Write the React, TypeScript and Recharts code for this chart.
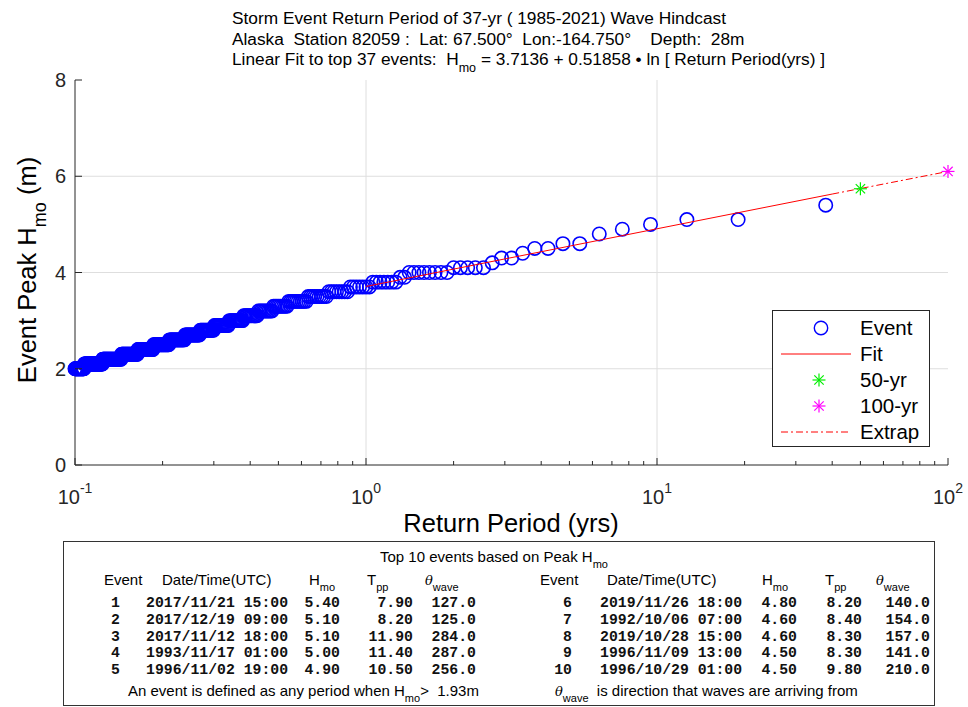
import React from "react";
import { Legend, ReferenceLine, Scatter, ScatterChart, XAxis, YAxis } from "recharts";

// plotting position: T = record length / rank
const RECORD_YEARS = 38;
const HMO_LEVELS = [
  5.4, 5.3, 5.2, 5.1, 5.0, 4.9, 4.8, 4.7, 4.6, 4.5, 4.4, 4.3, 4.2, 4.1, 4.0, 3.9, 3.8, 3.7,
  3.6, 3.5, 3.4, 3.3, 3.2, 3.1, 3.0, 2.9, 2.8, 2.7, 2.6, 2.5, 2.4, 2.3, 2.2, 2.1, 2.0,
];
const EVENTS_PER_LEVEL = [
  1, 0, 0, 2, 1, 1, 1, 0, 2, 2, 1, 2, 1, 5, 8, 2, 7, 7,
  8, 9, 10, 9, 10, 11, 12, 14, 15, 18, 21, 24, 27, 32, 42, 48, 27,
];

const FIT_T = [1.0, 40];
const FIT_H = [3.71, 5.63];
const EXTRAP_T = [40, 100];
const EXTRAP_H = [5.63, 6.1];
const RP50 = { t: 50, h: 5.74 };
const RP100 = { t: 100, h: 6.1 };

const X_MAJOR = [0.1, 1, 10, 100];
const X_MINOR = [
  0.2, 0.3, 0.4, 0.5, 0.6, 0.7, 0.8, 0.9, 2, 3, 4, 5, 6, 7, 8, 9, 20, 30, 40, 50, 60, 70, 80, 90,
];
const Y_TICKS = [0, 2, 4, 6, 8];

const TOP_RANK = [1, 2, 3, 4, 5, 6, 7, 8, 9, 10];
const TOP_DATE = [
  "2017/11/21 15:00", "2017/12/19 09:00", "2017/11/12 18:00", "1993/11/17 01:00", "1996/11/02 19:00",
  "2019/11/26 18:00", "1992/10/06 07:00", "2019/10/28 15:00", "1996/11/09 13:00", "1996/10/29 01:00",
];
const TOP_HMO = ["5.40", "5.10", "5.10", "5.00", "4.90", "4.80", "4.60", "4.60", "4.50", "4.50"];
const TOP_TPP = ["7.90", "8.20", "11.90", "11.40", "10.50", "8.20", "8.40", "8.30", "8.30", "9.80"];
const TOP_DIR = ["127.0", "125.0", "284.0", "287.0", "256.0", "140.0", "154.0", "157.0", "141.0", "210.0"];

const events: { t: number; h: number }[] = [];
let rank = 0;
HMO_LEVELS.forEach((h, i) => {
  for (let k = 0; k < EVENTS_PER_LEVEL[i]; k++) {
    rank += 1;
    events.push({ t: RECORD_YEARS / rank, h });
  }
});
const fitData = FIT_T.map((t, i) => ({ t, h: FIT_H[i] }));
const extrapData = EXTRAP_T.map((t, i) => ({ t, h: EXTRAP_H[i] }));
const X_ALL = [...X_MAJOR, ...X_MINOR].sort((a, b) => a - b);

const AX = "#262626";
const SANS = '"Liberation Sans", Arial, sans-serif';
const MONO = '"Liberation Mono", "Courier New", monospace';
const DASHDOT = "7 3 2 3";

const isMajor = (v: number) => X_MAJOR.some((m) => Math.abs(m - v) < 1e-9);

const BottomTick = (p: any) => {
  const major = isMajor(p.payload.value);
  const exp = Math.round(Math.log10(p.payload.value));
  return (
    <g>
      <line x1={p.x} x2={p.x} y1={p.y} y2={p.y - (major ? 7 : 4)} stroke={AX} />
      {major && (
        <text x={p.x} y={p.y + 39} textAnchor="middle" fontSize={20} fill={AX}>
          10<tspan dy={-11} fontSize={14}>{exp}</tspan>
        </text>
      )}
    </g>
  );
};
const TopTick = (p: any) => {
  const major = isMajor(p.payload.value);
  return <line x1={p.x} x2={p.x} y1={p.y} y2={p.y + (major ? 7 : 4)} stroke={AX} />;
};
const LeftTick = (p: any) => (
  <g>
    <line x1={p.x} x2={p.x + 7} y1={p.y} y2={p.y} stroke={AX} />
    <text x={p.x - 9} y={p.y} dy="0.36em" textAnchor="end" fontSize={20} fill={AX}>
      {p.payload.value}
    </text>
  </g>
);
const RightTick = (p: any) => <line x1={p.x} x2={p.x - 7} y1={p.y} y2={p.y} stroke={AX} />;

const Ring = (p: any) => (
  <circle cx={p.cx} cy={p.cy} r={6.7} fill="none" stroke="#0000ff" strokeWidth={1.6} />
);
const star = (color: string) => (p: any) => {
  const r = 6.5;
  const d = r * 0.72;
  return (
    <g stroke={color} strokeWidth={1.2}>
      <line x1={p.cx - r} x2={p.cx + r} y1={p.cy} y2={p.cy} />
      <line x1={p.cx} x2={p.cx} y1={p.cy - r} y2={p.cy + r} />
      <line x1={p.cx - d} x2={p.cx + d} y1={p.cy - d} y2={p.cy + d} />
      <line x1={p.cx - d} x2={p.cx + d} y1={p.cy + d} y2={p.cy - d} />
    </g>
  );
};
const Nothing = () => <g />;

const LegendBox = () => {
  const rows = ["Event", "Fit", "50-yr", "100-yr", "Extrap"];
  return (
    <div
      style={{
        width: 158,
        height: 137,
        boxSizing: "border-box",
        border: `1px solid ${AX}`,
        background: "#fff",
        position: "relative",
        fontFamily: SANS,
      }}
    >
      <svg width={88} height={137} style={{ position: "absolute", left: 0, top: 0 }}>
        <circle cx={48} cy={17} r={6.7} fill="none" stroke="#0000ff" strokeWidth={1.4} />
        <line x1={8} x2={78} y1={43} y2={43} stroke="#ff0000" />
        {star("#00ee00")({ cx: 46, cy: 69 })}
        {star("#ff00ff")({ cx: 46, cy: 95 })}
        <line x1={8} x2={78} y1={121} y2={121} stroke="#ff0000" strokeDasharray={DASHDOT} />
      </svg>
      {rows.map((r, i) => (
        <div
          key={r}
          style={{ position: "absolute", left: 87, top: 17 + i * 26, transform: "translateY(-50%)", fontSize: 20.5, color: "#000", lineHeight: 1 }}
        >
          {r}
        </div>
      ))}
    </div>
  );
};

const Sub = ({ children, size = 11 }: { children: React.ReactNode; size?: number }) => (
  <span style={{ fontSize: size, position: "relative", top: size * 0.55 }}>{children}</span>
);
const Theta = () => <span style={{ fontStyle: "italic", fontFamily: '"DejaVu Serif", serif', fontSize: 13 }}>θ</span>;

const abs = (left: number, top: number, extra: React.CSSProperties = {}): React.CSSProperties => ({
  position: "absolute",
  left,
  top,
  transform: "translateY(-50%)",
  whiteSpace: "pre",
  lineHeight: 1,
  ...extra,
});
const right = (edge: number, top: number, extra: React.CSSProperties = {}): React.CSSProperties =>
  abs(edge - 100, top, { width: 100, textAlign: "right", ...extra });

function EventTable() {
  const cols = [
    { rank: 120, date: 146, hmo: 340, tpp: 413, dir: 476, hEvent: 104, hDate: 162, hH: 309, hT: 367, hTh: 425 },
    { rank: 572, date: 600, hmo: 797, tpp: 862, dir: 930, hEvent: 540, hDate: 607, hH: 762, hT: 825, hTh: 876 },
  ];
  const rowY = (i: number) => 603 + i * 16.8;
  const mono: React.CSSProperties = { fontFamily: MONO, fontSize: 14.8, fontWeight: 700, color: "#111" };
  return (
    <div style={{ position: "absolute", left: 0, top: 0, width: 968, height: 707, fontFamily: SANS, fontSize: 15, color: "#000", pointerEvents: "none" }}>
      <div style={{ position: "absolute", left: 63, top: 541, width: 872, height: 165, boxSizing: "border-box", border: "1.5px solid #333", background: "#fff" }} />
      <div style={abs(380, 556)}>
        Top 10 events based on Peak H<Sub>mo</Sub>
      </div>
      {cols.map((c, g) => (
        <React.Fragment key={g}>
          <div style={abs(c.hEvent, 579)}>Event</div>
          <div style={abs(c.hDate, 579)}>Date/Time(UTC)</div>
          <div style={abs(c.hH, 579)}>
            H<Sub>mo</Sub>
          </div>
          <div style={abs(c.hT, 579)}>
            T<Sub>pp</Sub>
          </div>
          <div style={abs(c.hTh, 579)}>
            <Theta />
            <Sub>wave</Sub>
          </div>
          {TOP_RANK.slice(g * 5, g * 5 + 5).map((r, k) => {
            const i = g * 5 + k;
            return (
              <React.Fragment key={r}>
                <div style={right(c.rank, rowY(k), mono)}>{r}</div>
                <div style={abs(c.date, rowY(k), mono)}>{TOP_DATE[i]}</div>
                <div style={right(c.hmo, rowY(k), mono)}>{TOP_HMO[i]}</div>
                <div style={right(c.tpp, rowY(k), mono)}>{TOP_TPP[i]}</div>
                <div style={right(c.dir, rowY(k), mono)}>{TOP_DIR[i]}</div>
              </React.Fragment>
            );
          })}
        </React.Fragment>
      ))}
      <div style={abs(128, 690)}>
        An event is defined as any period when H<Sub>mo</Sub>{">  1.93m"}
      </div>
      <div style={abs(555, 690)}>
        <Theta />
        <Sub>wave</Sub>
        {"  is direction that waves are arriving from"}
      </div>
    </div>
  );
}

export default function App() {
  return (
    <div style={{ position: "absolute", left: 0, top: 0, width: 968, height: 707, background: "#fff", fontFamily: SANS, overflow: "hidden" }}>
      <div style={{ position: "absolute", left: 232, top: 8, fontSize: 17.3, lineHeight: "20.5px", color: "#000", whiteSpace: "pre" }}>
        <div>Storm Event Return Period of 37-yr ( 1985-2021) Wave Hindcast</div>
        <div>{"Alaska  Station 82059 :  Lat: 67.500°  Lon:-164.750°    Depth:  28m"}</div>
        <div>
          {"Linear Fit to top 37 events:  H"}
          <Sub size={12.5}>mo</Sub>
          {" = 3.7136 + 0.51858 • ln [ Return Period(yrs) ]"}
        </div>
      </div>

      <ScatterChart width={968} height={540} margin={{ top: 80, right: 20, bottom: 35, left: 35 }} style={{ position: "absolute", left: 0, top: 0 }}>
        <XAxis xAxisId="b" dataKey="t" type="number" scale="log" domain={[0.1, 100]} ticks={X_ALL} interval={0}
          tick={(p: any) => <BottomTick {...p} />} tickLine={false} tickSize={0} tickMargin={0} axisLine={{ stroke: AX }} height={40} />
        <XAxis xAxisId="t" orientation="top" dataKey="t" type="number" scale="log" domain={[0.1, 100]} ticks={X_ALL} interval={0}
          tick={(p: any) => <TopTick {...p} />} tickLine={false} tickSize={0} tickMargin={0} axisLine={{ stroke: AX }} height={0} />
        <YAxis yAxisId="l" dataKey="h" type="number" domain={[0, 8]} ticks={Y_TICKS} interval={0}
          tick={(p: any) => <LeftTick {...p} />} tickLine={false} tickSize={0} tickMargin={0} axisLine={{ stroke: AX }} width={40} />
        <YAxis yAxisId="r" orientation="right" dataKey="h" type="number" domain={[0, 8]} ticks={Y_TICKS} interval={0}
          tick={(p: any) => <RightTick {...p} />} tickLine={false} tickSize={0} tickMargin={0} axisLine={{ stroke: AX }} width={0} />

        {[1, 10].map((v) => (
          <ReferenceLine key={"gx" + v} xAxisId="b" yAxisId="l" x={v} stroke="#dedede" />
        ))}
        {[2, 4, 6].map((v) => (
          <ReferenceLine key={"gy" + v} xAxisId="b" yAxisId="l" y={v} stroke="#dedede" />
        ))}

        <Scatter name="Event" xAxisId="b" yAxisId="l" data={events} shape={Ring} isAnimationActive={false} />
        <Scatter name="Fit" xAxisId="b" yAxisId="l" data={fitData} shape={Nothing}
          line={{ stroke: "#ff0000", strokeWidth: 1 }} isAnimationActive={false} />
        <Scatter name="Extrap" xAxisId="b" yAxisId="l" data={extrapData} shape={Nothing}
          line={{ stroke: "#ff0000", strokeWidth: 1, strokeDasharray: DASHDOT }} isAnimationActive={false} />
        <Scatter name="50-yr" xAxisId="b" yAxisId="l" data={[RP50]} shape={star("#00ee00")} isAnimationActive={false} />
        <Scatter name="100-yr" xAxisId="b" yAxisId="l" data={[RP100]} shape={star("#ff00ff")} isAnimationActive={false} />

        <Legend layout="vertical" verticalAlign="middle" align="center" content={() => <LegendBox />}
          wrapperStyle={{ position: "absolute", left: 772, top: 310, width: 158, height: 137 }} />
      </ScatterChart>

      <div style={{ position: "absolute", left: 511, top: 523, transform: "translate(-50%, -50%)", fontSize: 25.5, color: "#000", whiteSpace: "nowrap" }}>
        Return Period (yrs)
      </div>
      <div style={{ position: "absolute", left: 27, top: 270, transform: "translate(-50%, -50%) rotate(-90deg)", fontSize: 25.5, color: "#000", whiteSpace: "nowrap" }}>
        Event Peak H<Sub size={18}>mo</Sub> (m)
      </div>

      <EventTable />
    </div>
  );
}
